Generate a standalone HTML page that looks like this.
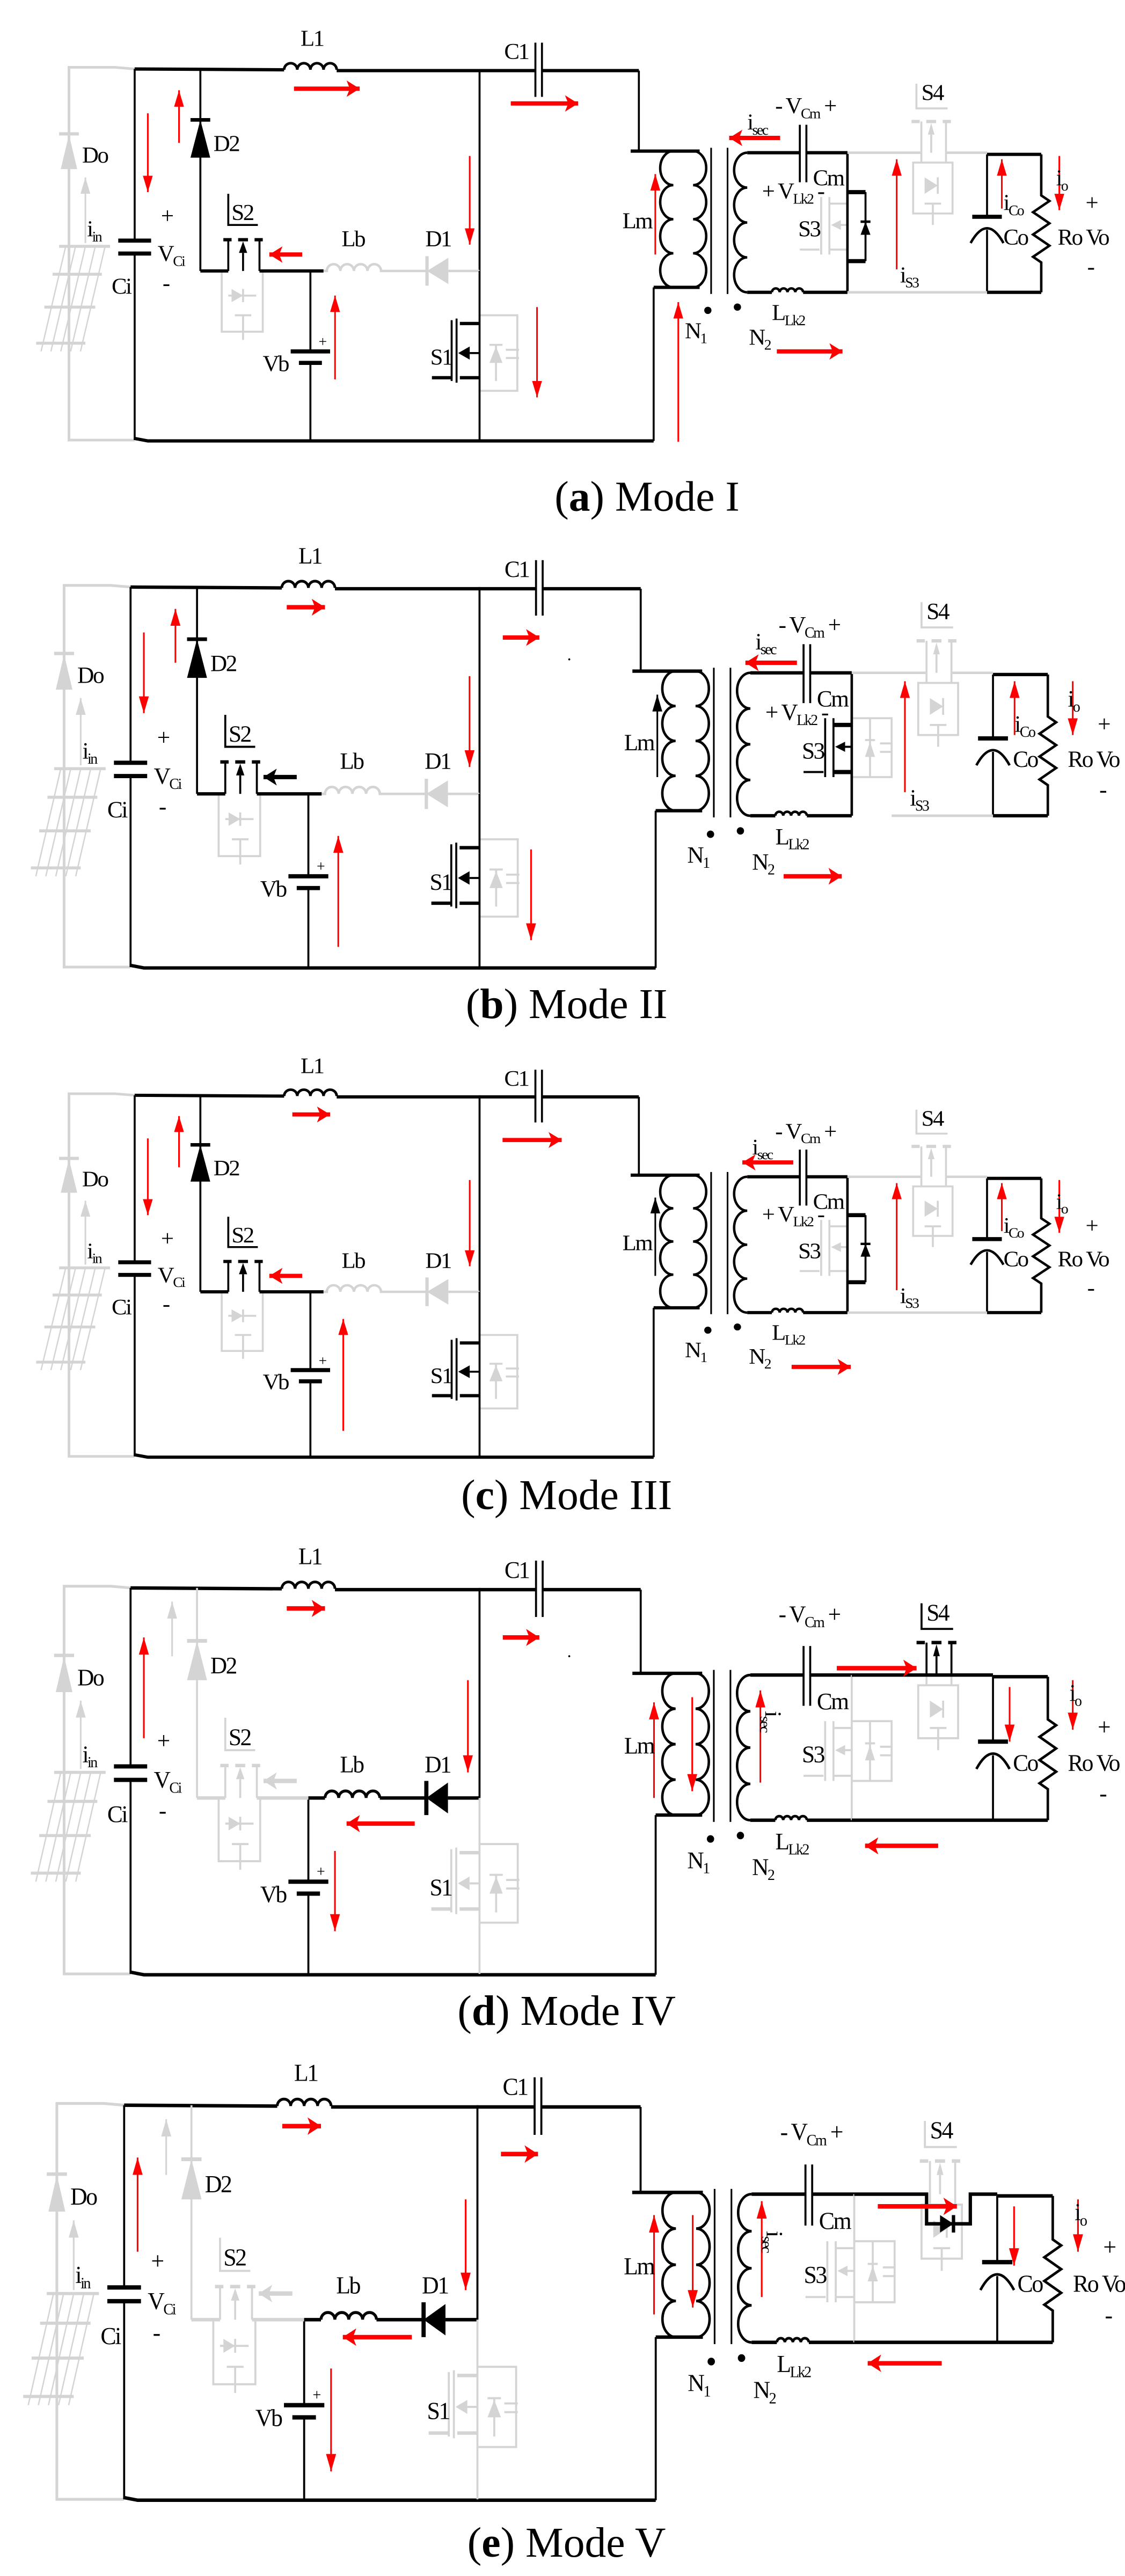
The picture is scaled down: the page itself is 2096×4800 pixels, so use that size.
<!DOCTYPE html>
<html><head><meta charset="utf-8">
<style>
html,body{margin:0;padding:0;background:#fff}
svg{display:block}
.k{stroke:#000;fill:none}
.g{stroke:#d4d4d4;fill:none}
.t{font-family:"Liberation Serif",serif;font-size:14px;fill:#000;letter-spacing:-0.8px}
.cap{font-family:"Liberation Serif",serif;font-size:26px;fill:#000}
.ra{stroke:#f00;stroke-width:1;fill:none;marker-end:url(#rt)}
.rB{stroke:#f00;stroke-width:2.6;fill:none;marker-end:url(#rb)}
.ka{stroke:#000;stroke-width:1;fill:none;marker-end:url(#kt)}
.kB{stroke:#000;stroke-width:2.6;fill:none;marker-end:url(#kb)}
.ga{stroke:#d4d4d4;stroke-width:1;fill:none;marker-end:url(#gt)}
.gB{stroke:#d4d4d4;stroke-width:2.6;fill:none;marker-end:url(#gb)}
</style></head>
<body>
<svg xmlns="http://www.w3.org/2000/svg" width="2096" height="4800" viewBox="0 0 685 1568.7" preserveAspectRatio="none">
<defs>
<marker id="rt" viewBox="0 0 10 6" refX="10" refY="3" markerWidth="10" markerHeight="6" markerUnits="userSpaceOnUse" orient="auto"><path d="M0 0L10 3L0 6z" fill="#f00"/></marker>
<marker id="rb" viewBox="0 0 8 10" refX="8" refY="5" markerWidth="8" markerHeight="10" markerUnits="userSpaceOnUse" orient="auto"><path d="M0 0L8 5L0 10L2 5z" fill="#f00"/></marker>
<marker id="kt" viewBox="0 0 10 6" refX="10" refY="3" markerWidth="10" markerHeight="6" markerUnits="userSpaceOnUse" orient="auto"><path d="M0 0L10 3L0 6z" fill="#000"/></marker>
<marker id="kb" viewBox="0 0 8 10" refX="8" refY="5" markerWidth="8" markerHeight="10" markerUnits="userSpaceOnUse" orient="auto"><path d="M0 0L8 5L0 10L2 5z" fill="#000"/></marker>
<marker id="gt" viewBox="0 0 10 6" refX="10" refY="3" markerWidth="10" markerHeight="6" markerUnits="userSpaceOnUse" orient="auto"><path d="M0 0L10 3L0 6z" fill="#d4d4d4"/></marker>
<marker id="gb" viewBox="0 0 8 10" refX="8" refY="5" markerWidth="8" markerHeight="10" markerUnits="userSpaceOnUse" orient="auto"><path d="M0 0L8 5L0 10L2 5z" fill="#d4d4d4"/></marker>

<g id="base">
 <path class="g" stroke-width="1.6" d="M82 0 L70 -1 L42 -1 V226 H82"/>
 <polygon fill="#d4d4d4" points="37,61 47,61 42,40"/><path class="g" stroke-width="2" d="M36 39.5 H48"/>
 <path class="ga" d="M52 106 V66"/>
 <path class="g" stroke-width="1.8" d="M36 108 H67 M32 125 H62 M27 145 H58 M22 167 H52"/>
 <path class="g" stroke-width="0.8" d="M40 108 L25 172 M46 108 L31 172 M52 108 L37 172 M58 108 L43 172 M64 108 L49 172"/>
 <path class="k" stroke-width="1.2" d="M82 0 V104.5 M82 112.4 V226"/>
 <path class="k" stroke-width="2.5" d="M72 104.5 H92 M72 112.4 H92"/>
 <path class="k" stroke-width="2" d="M82 0 L173 0.5 M205 1 H326 M330 1 H389"/>
 <path class="k" stroke-width="1.6" d="M173 0.5 a4 4 0 0 1 8 0 a4 4 0 0 1 8 0 a4 4 0 0 1 8 0 a4 4 0 0 1 8 0"/>
 <path class="k" stroke-width="1.2" d="M326 -16 V17 M330 -16 V17 M389 1 V50"/>
 <path class="k" stroke-width="2" d="M82 225 L90 226.5 H398"/>
 <path class="k" stroke-width="1.2" d="M398 133 V226.5 M189 123 V172 M189 179 V226 M292 0 V123"/>
 <path class="k" stroke-width="2.5" d="M177 172 H201 M182 179 H196"/>
 <path class="k" stroke-width="2" d="M384 50 H426 M398 133 H426"/>
 <path class="k" stroke-width="1.5" d="M410 50 a8 10.375 0 0 0 0 20.75 a8 10.375 0 0 0 0 20.75 a8 10.375 0 0 0 0 20.75 a8 10.375 0 0 0 0 20.75 M422 50 a8 10.375 0 0 1 0 20.75 a8 10.375 0 0 1 0 20.75 a8 10.375 0 0 1 0 20.75 a8 10.375 0 0 1 0 20.75"/>
 <path class="k" stroke-width="1" d="M433 48 V137 M443 48 V137"/>
 <path class="k" stroke-width="1.5" d="M455 51 a8 10.625 0 0 0 0 21.25 a8 10.625 0 0 0 0 21.25 a8 10.625 0 0 0 0 21.25 a8 10.625 0 0 0 0 21.25"/>
 <path class="k" stroke-width="2" d="M455 51 H487 M491 51 H516 M455 136 H470 M489 136 H516"/>
 <path class="k" stroke-width="1.2" d="M487 34 V69 M491 34 V69"/>
 <path class="k" stroke-width="1.5" d="M470 136 a2.375 2.375 0 0 1 4.75 0 a2.375 2.375 0 0 1 4.75 0 a2.375 2.375 0 0 1 4.75 0 a2.375 2.375 0 0 1 4.75 0"/>
 <circle cx="431" cy="147" r="2.2" fill="#000"/><circle cx="449" cy="145" r="2.2" fill="#000"/>
 <path class="k" stroke-width="2" d="M601 52 H634 M601 136 H634"/>
 <path class="k" stroke-width="1.2" d="M601 52 V90 M601 98 V136"/>
 <path class="k" stroke-width="2.5" d="M592 90 H610"/>
 <path class="k" stroke-width="1.5" d="M591 106 Q601 88 611 106"/>
 <path class="k" stroke-width="1.5" d="M634 52 V77 l5 3.4 l-10 6.8 l10 6.8 l-10 6.8 l10 6.8 l-10 6.8 l5 3.4 V136"/>
 <path class="g" stroke-width="1.2" d="M561 51 V57 M576 51 V57 M556 57 H580 V88 H556 Z M563 82 H573 M568 82 V95"/>
 <polygon fill="#d4d4d4" points="563,66 563,76 571,71"/><path class="g" stroke-width="1.2" d="M571 66 V76"/>
 <path class="g" stroke-width="1.2" d="M135 123 V160 H160 V123 M139 138 H156 M148 134 V142 M143 150 H153 M148 150 V165"/>
 <polygon fill="#d4d4d4" points="141,134 141,142 148,138"/>
 <path class="g" stroke-width="1.2" d="M292 150 H315 V196 H292 M298 168 H306 M302 168 V190 M308 171 H316 M308 176 H316"/>
 <polygon fill="#d4d4d4" points="298,179 306,179 302,169"/>
</g>

<g id="leftOn">
 <path class="k" stroke-width="1.2" d="M122 0 V123"/><polygon points="116,54 128,54 122,31" fill="#000"/><path class="k" stroke-width="2.2" d="M116 31 H128"/>
 <path class="k" stroke-width="1.2" d="M139 76 V95 H157 M139 104 V123 M158 104 V123 M148 112 V123"/>
 <path class="k" stroke-width="2" d="M136 104 H141 M145 104 H151 M155 104 H160 M122 123 H139 M158 123 H197"/>
 <polygon points="145.5,112 150.5,112 148,105" fill="#000"/>
 <path class="g" stroke-width="1.5" d="M197 123 H199 a4.125 4.125 0 0 1 8.25 0 a4.125 4.125 0 0 1 8.25 0 a4.125 4.125 0 0 1 8.25 0 a4.125 4.125 0 0 1 8.25 0 H260 M273 123 H292"/>
 <polygon points="260,123 273,115 273,131" fill="#d4d4d4"/><path class="g" stroke-width="2" d="M260 114 V132"/>
 <path class="k" stroke-width="2" d="M280 155 H292 M280 188 H292 M263 188 H275"/>
 <path class="k" stroke-width="1.2" d="M278 152 V191 M275 153 V190 M286 173 H292 M292 123 V226"/>
 <polygon points="279,173 286,169 286,177" fill="#000"/>
</g>

<g id="leftOff">
 <path class="g" stroke-width="1.2" d="M122 0 V123"/><polygon points="116,54 128,54 122,31" fill="#d4d4d4"/><path class="g" stroke-width="2.2" d="M116 31 H128"/>
 <path class="g" stroke-width="1.2" d="M139 76 V95 H157 M139 104 V123 M158 104 V123 M148 112 V123"/>
 <path class="g" stroke-width="2" d="M136 104 H141 M145 104 H151 M155 104 H160 M122 123 H139 M158 123 H189"/>
 <polygon points="145.5,112 150.5,112 148,105" fill="#d4d4d4"/>
 <path class="k" stroke-width="2" d="M189 123 H199 M232 123 H260 M273 123 H292"/>
 <path class="k" stroke-width="1.7" d="M199 123 a4.125 4.125 0 0 1 8.25 0 a4.125 4.125 0 0 1 8.25 0 a4.125 4.125 0 0 1 8.25 0 a4.125 4.125 0 0 1 8.25 0"/>
 <polygon points="260,123 273,114 273,132" fill="#000"/><path class="k" stroke-width="2.5" d="M260 113 V133"/>
 <path class="g" stroke-width="2" d="M280 155 H292 M280 188 H292 M263 188 H275"/>
 <path class="g" stroke-width="1.2" d="M278 152 V191 M275 153 V190 M286 173 H292 M292 123 V226"/>
 <polygon points="279,173 286,169 286,177" fill="#d4d4d4"/>
</g>

<g id="s4off">
 <path class="g" stroke-width="1.2" d="M558 9 V24 H577 M561 32 V51 M576 32 V51 M567 40 V51"/>
 <path class="g" stroke-width="2" d="M555 32 H560 M564 32 H570 M574 32 H579"/>
 <polygon points="565,40 569,40 567,33" fill="#d4d4d4"/>
</g>
<g id="s4on">
 <path class="k" stroke-width="1.2" d="M558 9 V24 H577 M561 32 V51 M576 32 V51 M567 40 V51"/>
 <path class="k" stroke-width="2" d="M555 32 H560 M564 32 H570 M574 32 H579"/>
 <polygon points="565,40 569,40 567,33" fill="#000"/>
</g>
<g id="s3swOff">
 <path class="g" stroke-width="1.2" d="M487 110 H499 M500 78 V113 M505 78 V113 M505 82 H516 M505 110 H516 M509 95 H516"/>
 <polygon points="506,95 512,92 512,98" fill="#d4d4d4"/>
</g>
<g id="s3swOn">
 <path class="k" stroke-width="1.2" d="M487 110 H499 M500 78 V113 M505 78 V113 M509 95 H516"/>
 <path class="k" stroke-width="2.5" d="M505 82 H516 M505 110 H516"/>
 <polygon points="506,95 512,92 512,98" fill="#000"/>
</g>
<g id="s3dOn">
 <path class="k" stroke-width="1.5" d="M516 51 V136 M524 93 H530"/>
 <path class="k" stroke-width="2.5" d="M516 75 H527 M516 117 H527"/>
 <path class="k" stroke-width="1.2" d="M527 75 V117"/>
 <polygon points="524,101 530,101 527,93" fill="#000"/>
</g>
<g id="s3dOff">
 <path class="g" stroke-width="1.2" d="M516 78 H540 V113 H516 M524 91 H530 M527 78 V113 M533 93 H540 M533 98 H540"/>
 <polygon points="524,101 530,101 527,92" fill="#d4d4d4"/>
</g>
</defs>

<!-- ============ MODE I ============ -->
<g transform="translate(0,42)">
 <use href="#base"/><use href="#leftOn"/><use href="#s4off"/><use href="#s3swOff"/><use href="#s3dOn"/>
 <path class="g" stroke-width="1.5" d="M516 51 H561 M576 51 H601 M516 136 H601"/>
 <path class="ra" d="M90 27V75"/><path class="ra" d="M109 45V13"/><path class="ra" d="M286 53V107"/>
 <path class="ra" d="M204 189V138"/><path class="ra" d="M327 145V200"/><path class="ra" d="M399 113V64"/>
 <path class="ra" d="M413 227V142"/><path class="ra" d="M546 122V55"/><path class="ra" d="M610 85V55"/><path class="ra" d="M645 53V86"/>
 <path class="rB" d="M179 12H219"/><path class="rB" d="M311 21H352"/><path class="rB" d="M184 113H164"/>
 <path class="rB" d="M475 42H444"/><path class="rB" d="M473 172H513"/>
 <g class="t">
  <text x="183" y="-14">L1</text><text x="307" y="-6">C1</text><text x="50" y="57">Do</text><text x="130" y="50">D2</text>
  <text x="53" y="102">i<tspan font-size="9" dy="3">in</tspan></text>
  <text x="98" y="94">+</text><text x="96" y="117">V<tspan font-size="9" dy="3">Ci</tspan></text><text x="68" y="137">Ci</text><text x="99" y="135">-</text>
  <text x="141" y="92">S2</text><text x="208" y="108">Lb</text><text x="259" y="108">D1</text><text x="160" y="184">Vb</text>
  <text x="194" y="169" font-size="9">+</text><text x="262" y="180">S1</text><text x="379" y="97">Lm</text>
  <text x="417" y="164">N<tspan font-size="9" dy="3">1</tspan></text><text x="456" y="168">N<tspan font-size="9" dy="3">2</tspan></text>
  <text x="470" y="153">L<tspan font-size="9" dy="3">Lk2</tspan></text>
  <text x="472" y="27">- V<tspan font-size="9" dy="3">Cm</tspan><tspan dy="-3"> +</tspan></text>
  <text x="455" y="37">i<tspan font-size="9" dy="3">sec</tspan></text>
  <text x="464" y="79">+ V<tspan font-size="9" dy="3">Lk2</tspan><tspan dy="-3"> -</tspan></text>
  <text x="495" y="71">Cm</text><text x="486" y="102">S3</text><text x="561" y="19">S4</text>
  <text x="548" y="130">i<tspan font-size="9" dy="3">S3</tspan></text><text x="611" y="86">i<tspan font-size="9" dy="3">Co</tspan></text>
  <text x="611" y="107">Co</text><text x="644" y="107">Ro Vo</text><text x="661" y="86">+</text><text x="662" y="125">-</text>
  <text x="643" y="71">i<tspan font-size="9" dy="3">o</tspan></text>
 </g>
</g>
<text class="cap" x="394" y="311" text-anchor="middle">(<tspan font-weight="bold">a</tspan>) Mode I</text>

<!-- ============ MODE II ============ -->
<g transform="translate(-3.47,357.5) scale(1.0118,1.024)">
 <use href="#base"/><use href="#leftOn"/><use href="#s4off"/><use href="#s3swOn"/><use href="#s3dOff"/>
 <path class="k" stroke-width="1.5" d="M516 51 V136"/>
 <path class="g" stroke-width="1.5" d="M516 51 H561 M576 51 H601 M540 136 H601"/>
 <path class="ra" d="M90 27V75"/><path class="ra" d="M109 45V13"/><path class="ra" d="M286 53V107"/>
 <path class="ra" d="M207 214V148"/><path class="ra" d="M323 156V210"/><path class="ka" d="M399 113V64"/>
 <path class="ra" d="M548 122V56"/><path class="ra" d="M614 88V56"/><path class="ra" d="M649 56V88"/>
 <path class="rB" d="M176 12H199"/><path class="rB" d="M306 30H328"/><path class="kB" d="M182 113H162"/>
 <path class="rB" d="M483 45H452"/><path class="rB" d="M475 172H510"/>
 <circle cx="346" cy="43" r="0.6" fill="#000"/>
 <g class="t">
  <text x="183" y="-14">L1</text><text x="307" y="-6">C1</text><text x="50" y="57">Do</text><text x="130" y="50">D2</text>
  <text x="53" y="102">i<tspan font-size="9" dy="3">in</tspan></text>
  <text x="98" y="94">+</text><text x="96" y="117">V<tspan font-size="9" dy="3">Ci</tspan></text><text x="68" y="137">Ci</text><text x="99" y="135">-</text>
  <text x="141" y="92">S2</text><text x="208" y="108">Lb</text><text x="259" y="108">D1</text><text x="160" y="184">Vb</text>
  <text x="194" y="169" font-size="9">+</text><text x="262" y="180">S1</text><text x="379" y="97">Lm</text>
  <text x="417" y="164">N<tspan font-size="9" dy="3">1</tspan></text><text x="456" y="168">N<tspan font-size="9" dy="3">2</tspan></text>
  <text x="470" y="153">L<tspan font-size="9" dy="3">Lk2</tspan></text>
  <text x="472" y="27">- V<tspan font-size="9" dy="3">Cm</tspan><tspan dy="-3"> +</tspan></text>
  <text x="458" y="37">i<tspan font-size="9" dy="3">sec</tspan></text>
  <text x="464" y="79">+ V<tspan font-size="9" dy="3">Lk2</tspan><tspan dy="-3"> -</tspan></text>
  <text x="495" y="71">Cm</text><text x="486" y="102">S3</text><text x="561" y="19">S4</text>
  <text x="551" y="130">i<tspan font-size="9" dy="3">S3</tspan></text><text x="614" y="86">i<tspan font-size="9" dy="3">Co</tspan></text>
  <text x="613" y="107">Co</text><text x="646" y="107">Ro Vo</text><text x="664" y="86">+</text><text x="665" y="125">-</text>
  <text x="646" y="71">i<tspan font-size="9" dy="3">o</tspan></text>
 </g>
</g>
<text class="cap" x="345" y="620" text-anchor="middle">(<tspan font-weight="bold">b</tspan>) Mode II</text>

<!-- ============ MODE III ============ -->
<g transform="translate(0,667) scale(1,0.973)">
 <use href="#base"/><use href="#leftOn"/><use href="#s4off"/><use href="#s3swOff"/><use href="#s3dOn"/>
 <path class="g" stroke-width="1.5" d="M516 51 H561 M576 51 H601 M516 136 H601"/>
 <path class="ra" d="M90 27V75"/><path class="ra" d="M109 45V13"/><path class="ra" d="M286 53V107"/>
 <path class="ra" d="M209 210V140"/><path class="ka" d="M399 113V64"/>
 <path class="ra" d="M546 122V55"/><path class="ra" d="M610 85V55"/><path class="ra" d="M645 53V86"/>
 <path class="rB" d="M178 12H201"/><path class="rB" d="M306 28H342"/><path class="rB" d="M184 113H164"/>
 <path class="rB" d="M483 42H452"/><path class="rB" d="M482 170H518"/>
 <g class="t">
  <text x="183" y="-14">L1</text><text x="307" y="-6">C1</text><text x="50" y="57">Do</text><text x="130" y="50">D2</text>
  <text x="53" y="102">i<tspan font-size="9" dy="3">in</tspan></text>
  <text x="98" y="94">+</text><text x="96" y="117">V<tspan font-size="9" dy="3">Ci</tspan></text><text x="68" y="137">Ci</text><text x="99" y="135">-</text>
  <text x="141" y="92">S2</text><text x="208" y="108">Lb</text><text x="259" y="108">D1</text><text x="160" y="184">Vb</text>
  <text x="194" y="169" font-size="9">+</text><text x="262" y="180">S1</text><text x="379" y="97">Lm</text>
  <text x="417" y="164">N<tspan font-size="9" dy="3">1</tspan></text><text x="456" y="168">N<tspan font-size="9" dy="3">2</tspan></text>
  <text x="470" y="153">L<tspan font-size="9" dy="3">Lk2</tspan></text>
  <text x="472" y="27">- V<tspan font-size="9" dy="3">Cm</tspan><tspan dy="-3"> +</tspan></text>
  <text x="458" y="37">i<tspan font-size="9" dy="3">sec</tspan></text>
  <text x="464" y="79">+ V<tspan font-size="9" dy="3">Lk2</tspan><tspan dy="-3"> -</tspan></text>
  <text x="495" y="71">Cm</text><text x="486" y="102">S3</text><text x="561" y="19">S4</text>
  <text x="548" y="130">i<tspan font-size="9" dy="3">S3</tspan></text><text x="611" y="86">i<tspan font-size="9" dy="3">Co</tspan></text>
  <text x="611" y="107">Co</text><text x="644" y="107">Ro Vo</text><text x="661" y="86">+</text><text x="662" y="125">-</text>
  <text x="643" y="71">i<tspan font-size="9" dy="3">o</tspan></text>
 </g>
</g>
<text class="cap" x="345" y="919" text-anchor="middle">(<tspan font-weight="bold">c</tspan>) Mode III</text>

<!-- ============ MODE IV ============ -->
<g transform="translate(-3.47,967) scale(1.0118,1.04)">
 <use href="#base"/><use href="#leftOff"/><use href="#s4on"/><use href="#s3swOff"/><use href="#s3dOff"/>
 <path class="g" stroke-width="1.2" d="M516 51 V136"/>
 <path class="k" stroke-width="2" d="M516 51 H601 M516 136 H601"/>
 <path class="ra" d="M90 88V29"/><path class="ga" d="M107 40V8"/><path class="ra" d="M285 54V108"/>
 <path class="ra" d="M205 154V201"/><path class="ra" d="M397 123V67"/><path class="ra" d="M420 64V119"/>
 <path class="ra" d="M461 114V60"/><path class="ra" d="M611 58V90"/><path class="ra" d="M649 54V83"/>
 <path class="rB" d="M176 12H199"/><path class="rB" d="M306 29H328"/><path class="gB" d="M182 113H162"/>
 <path class="rB" d="M253 138H212"/><path class="rB" d="M507 47H555"/><path class="rB" d="M568 151H524"/>
 <circle cx="346" cy="40" r="0.6" fill="#000"/>
 <g class="t">
  <text x="183" y="-14">L1</text><text x="307" y="-6">C1</text><text x="50" y="57">Do</text><text x="130" y="50">D2</text>
  <text x="53" y="102">i<tspan font-size="9" dy="3">in</tspan></text>
  <text x="98" y="94">+</text><text x="96" y="117">V<tspan font-size="9" dy="3">Ci</tspan></text><text x="68" y="137">Ci</text><text x="99" y="135">-</text>
  <text x="141" y="92">S2</text><text x="208" y="108">Lb</text><text x="259" y="108">D1</text><text x="160" y="184">Vb</text>
  <text x="194" y="169" font-size="9">+</text><text x="262" y="180">S1</text><text x="379" y="97">Lm</text>
  <text x="417" y="164">N<tspan font-size="9" dy="3">1</tspan></text><text x="456" y="168">N<tspan font-size="9" dy="3">2</tspan></text>
  <text x="470" y="153">L<tspan font-size="9" dy="3">Lk2</tspan></text>
  <text x="472" y="20">- V<tspan font-size="9" dy="3">Cm</tspan><tspan dy="-3"> +</tspan></text>
  <text transform="translate(464,72) rotate(90)">i<tspan font-size="9" dy="3">sec</tspan></text>
  <text x="495" y="71">Cm</text><text x="486" y="102">S3</text><text x="561" y="19">S4</text>
  <text x="613" y="107">Co</text><text x="646" y="107">Ro Vo</text><text x="664" y="86">+</text><text x="665" y="125">-</text>
  <text x="647" y="66">i<tspan font-size="9" dy="3">o</tspan></text>
 </g>
</g>
<text class="cap" x="345" y="1233" text-anchor="middle">(<tspan font-weight="bold">d</tspan>) Mode IV</text>

<!-- ============ MODE V ============ -->
<g transform="translate(-8.4,1282) scale(1.0243,1.062)">
 <use href="#base"/><use href="#leftOff"/><use href="#s4off"/><use href="#s3swOff"/><use href="#s3dOff"/>
 <path class="g" stroke-width="1.2" d="M516 51 V136"/>
 <path class="k" stroke-width="2" d="M516 51 H559 V68 H585 V51 H601 M516 136 H601"/>
 <polygon points="567,63 567,73 575,68" fill="#000"/><path class="k" stroke-width="2" d="M575 63 V73"/>
 <path class="ra" d="M90 84V30"/><path class="ga" d="M107 40V8"/><path class="ra" d="M285 54V106"/>
 <path class="ra" d="M205 151V210"/><path class="ra" d="M397 120V63"/><path class="ra" d="M420 63V116"/>
 <path class="ra" d="M461 110V55"/><path class="ra" d="M611 58V92"/><path class="ra" d="M649 54V84"/>
 <path class="rB" d="M176 12H199"/><path class="rB" d="M306 28H328"/><path class="gB" d="M182 108H162"/>
 <path class="rB" d="M253 133H212"/><path class="rB" d="M530 58H577"/><path class="rB" d="M568 148H524"/>
 <g class="t">
  <text x="183" y="-14">L1</text><text x="307" y="-6">C1</text><text x="50" y="57">Do</text><text x="130" y="50">D2</text>
  <text x="53" y="102">i<tspan font-size="9" dy="3">in</tspan></text>
  <text x="98" y="94">+</text><text x="96" y="117">V<tspan font-size="9" dy="3">Ci</tspan></text><text x="68" y="137">Ci</text><text x="99" y="135">-</text>
  <text x="141" y="92">S2</text><text x="208" y="108">Lb</text><text x="259" y="108">D1</text><text x="160" y="184">Vb</text>
  <text x="194" y="169" font-size="9">+</text><text x="262" y="180">S1</text><text x="379" y="97">Lm</text>
  <text x="417" y="164">N<tspan font-size="9" dy="3">1</tspan></text><text x="456" y="168">N<tspan font-size="9" dy="3">2</tspan></text>
  <text x="470" y="153">L<tspan font-size="9" dy="3">Lk2</tspan></text>
  <text x="472" y="20">- V<tspan font-size="9" dy="3">Cm</tspan><tspan dy="-3"> +</tspan></text>
  <text transform="translate(464,72) rotate(90)">i<tspan font-size="9" dy="3">sec</tspan></text>
  <text x="495" y="71">Cm</text><text x="486" y="102">S3</text><text x="561" y="19">S4</text>
  <text x="613" y="107">Co</text><text x="646" y="107">Ro Vo</text><text x="664" y="86">+</text><text x="665" y="125">-</text>
  <text x="647" y="66">i<tspan font-size="9" dy="3">o</tspan></text>
 </g>
</g>
<text class="cap" x="345" y="1557" text-anchor="middle">(<tspan font-weight="bold">e</tspan>) Mode V</text>
</svg>
</body></html>
